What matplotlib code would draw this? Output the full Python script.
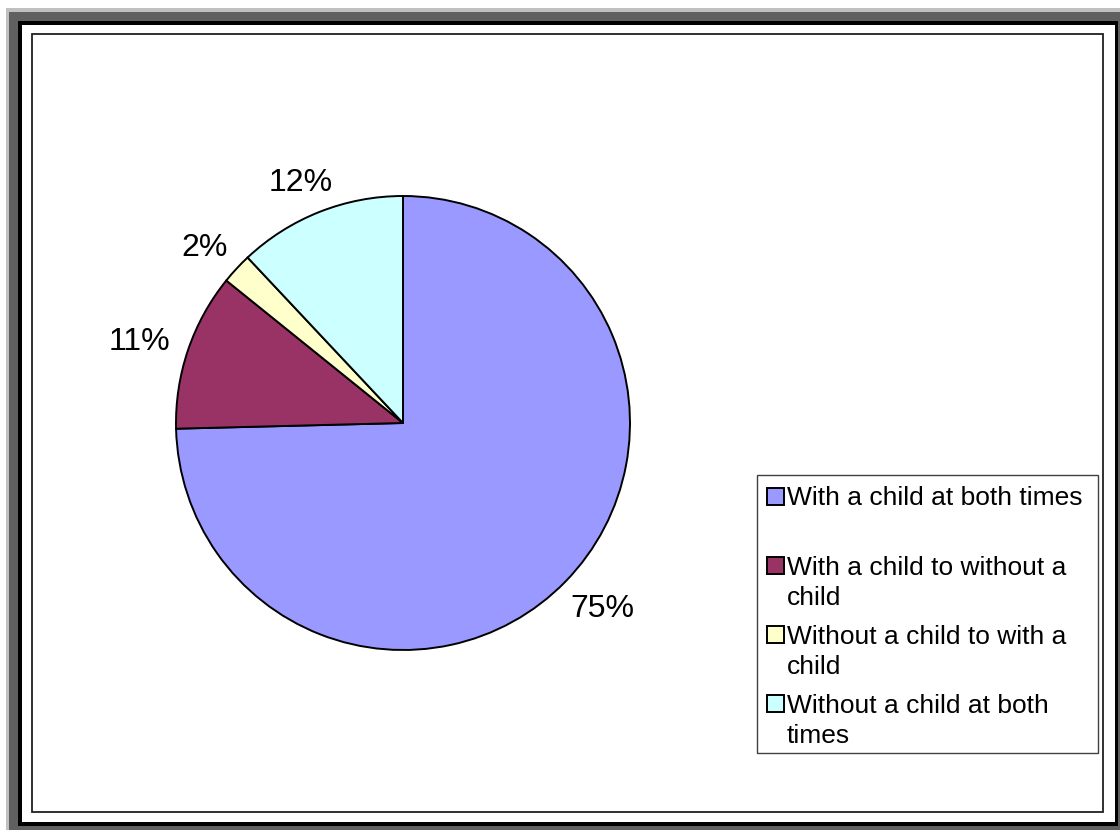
import textwrap

import numpy as np
import matplotlib
matplotlib.use("Agg")
import matplotlib.pyplot as plt
from matplotlib.patches import Rectangle

W, H = 1120, 830

categories = [
    "With a child at both times",
    "With a child to without a child",
    "Without a child to with a child",
    "Without a child at both times",
]
shares = [74.6, 11.2, 2.2, 12.0]
colors = ["#9999FF", "#993366", "#FFFFCC", "#CCFFFF"]

plt.rcParams["font.family"] = ["Liberation Sans", "DejaVu Sans"]


def box(x0, y0, x1, y1):
    # pixel box (top-left origin) -> figure fraction rectangle args
    return (x0 / W, 1 - y1 / H), (x1 - x0) / W, (y1 - y0) / H


fig = plt.figure(figsize=(W / 100, H / 100), dpi=100)

# outer frame: light edge, shadow, black border, white chart area
for (x0, y0, x1, y1), fc in [
    ((6, 8, 1120, 830), "#c0c0c0"),
    ((9, 12, 1120, 830), "#606060"),
    ((18, 21, 1118, 826), "black"),
    ((22, 25, 1115, 822), "white"),
]:
    xy, w, h = box(x0, y0, x1, y1)
    fig.add_artist(Rectangle(xy, w, h, transform=fig.transFigure,
                             facecolor=fc, edgecolor="none", zorder=-2))

xy, w, h = box(32, 34, 1103, 812)
fig.add_artist(Rectangle(xy, w, h, transform=fig.transFigure,
                         facecolor="white", edgecolor="#202020",
                         linewidth=1.3, zorder=-1))

# pie: centre (403, 423), radius 227 px
r = 227
ax = fig.add_axes([(403 - r) / W, (830 - 423 - r) / H, 2 * r / W, 2 * r / H])
ax.set_zorder(1)
ax.patch.set_visible(False)
wedges, _, autotexts = ax.pie(
    shares,
    colors=colors,
    startangle=90,
    counterclock=False,
    radius=1,
    autopct="%.0f%%",
    pctdistance=1.2,
    wedgeprops=dict(edgecolor="black", linewidth=1.4),
    textprops=dict(fontsize=23, color="black"),
)
ax.set_xlim(-1, 1)
ax.set_ylim(-1, 1)
ax.axis("off")

# push each percentage label just outside the rim, Excel style
renderer = fig.canvas.get_renderer()
gap = 20 / r
for wd, t in zip(wedges, autotexts):
    t.set_clip_on(False)
    th = np.deg2rad((wd.theta1 + wd.theta2) / 2)
    bb = t.get_window_extent(renderer)
    hw, hh = bb.width / 2 / r, bb.height / 2 / r
    t.set_position(((1 + gap + hw) * np.cos(th),
                    (1 + gap + hh) * np.sin(th)))
    t.set_va("center_baseline")
    t.set_ha("center")

# legend drawn as a box with one entry per category
xy, w, h = box(757, 475, 1098, 753)
fig.add_artist(Rectangle(xy, w, h, transform=fig.transFigure,
                         facecolor="white", edgecolor="#404040",
                         linewidth=1.0, zorder=2))
line_step = 31
for i, (name, c) in enumerate(zip(categories, colors)):
    base = 505 + i * 69
    mxy, mw, mh = box(767, base - 17, 784, base)
    fig.add_artist(Rectangle(mxy, mw, mh, transform=fig.transFigure,
                             facecolor=c, edgecolor="black",
                             linewidth=1.4, zorder=3))
    label = textwrap.fill(name, 26)
    last = base + line_step * label.count("\n")
    fig.text(787 / W, 1 - last / H, label,
             fontsize=19, ha="left", va="baseline",
             linespacing=1.3, zorder=3)

fig.savefig("out.png", dpi=100)
